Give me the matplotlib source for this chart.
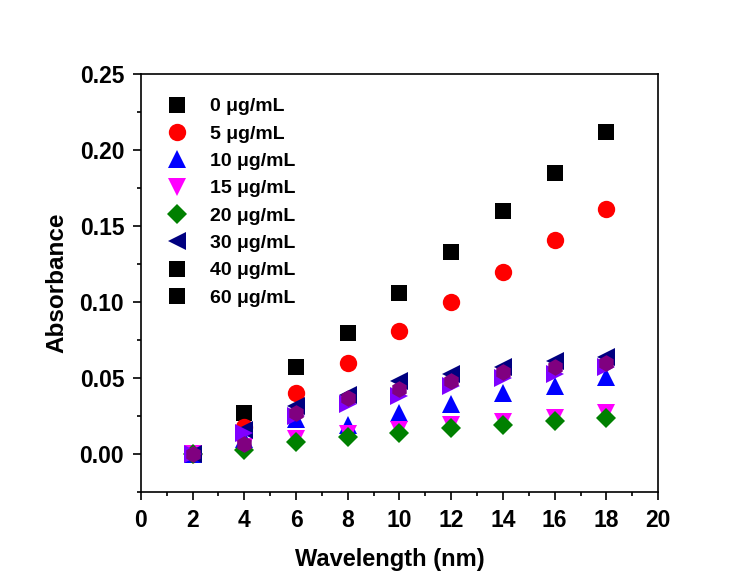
import numpy as np
import matplotlib.pyplot as plt
from matplotlib.lines import Line2D
from matplotlib.ticker import MultipleLocator

plt.rcParams['font.family'] = ['Liberation Sans', 'DejaVu Sans']
plt.rcParams['font.weight'] = 'bold'

wavelength = [2, 4, 6, 8, 10, 12, 14, 16, 18]

abs_0 = [0.000, 0.027, 0.057, 0.080, 0.106, 0.133, 0.160, 0.185, 0.212]
abs_5 = [0.000, 0.018, 0.040, 0.060, 0.081, 0.100, 0.120, 0.141, 0.161]
abs_10 = [0.000, 0.010, 0.023, 0.019, 0.027, 0.033, 0.040, 0.045, 0.051]
abs_15 = [0.000, 0.005, 0.010, 0.013, 0.016, 0.019, 0.021, 0.024, 0.027]
abs_20 = [0.000, 0.003, 0.008, 0.011, 0.014, 0.017, 0.019, 0.022, 0.024]
abs_30 = [0.000, 0.016, 0.032, 0.039, 0.048, 0.053, 0.057, 0.061, 0.064]
abs_40 = [0.000, 0.014, 0.025, 0.033, 0.038, 0.045, 0.050, 0.053, 0.057]
abs_60 = [0.000, 0.007, 0.027, 0.037, 0.043, 0.048, 0.054, 0.057, 0.060]

labels = ['0 μg/mL', '5 μg/mL', '10 μg/mL', '15 μg/mL', '20 μg/mL',
          '30 μg/mL', '40 μg/mL', '60 μg/mL']

series = [
    (abs_0, 's', 'black', 11),
    (abs_5, 'o', 'red', 12.5),
    (abs_10, '^', 'blue', 13),
    (abs_15, 'v', 'magenta', 13),
    (abs_20, 'D', 'green', 10),
    (abs_30, '<', 'navy', 13),
    (abs_40, '>', '#8000ff', 13),
    (abs_60, 'h', 'purple', 12),
]

fig = plt.figure(figsize=(7.53, 5.79), dpi=100)
ax = fig.add_axes([0.187, 0.150, 0.687, 0.722])

for vals, mk, col, ms in series:
    ax.plot(wavelength, vals, linestyle='None', marker=mk, color=col,
            markersize=ms, markeredgewidth=0)

# legend as drawn in the original (40 and 60 shown with black squares)
leg_style = [('s', 'black', 11), ('o', 'red', 12.5), ('^', 'blue', 13),
             ('v', 'magenta', 13), ('D', 'green', 10), ('<', 'navy', 13),
             ('s', 'black', 11), ('s', 'black', 11)]
handles = [Line2D([], [], linestyle='None', marker=m, color=c, markersize=s,
                  markeredgewidth=0) for m, c, s in leg_style]
ax.legend(handles, labels, loc='upper left', frameon=False, fontsize=14,
          handletextpad=0.7, labelspacing=0.5, borderaxespad=0.6,
          bbox_to_anchor=(-0.006, 0.99))

ax.set_xlim(0, 20)
ax.set_ylim(-0.025, 0.25)
ax.xaxis.set_major_locator(MultipleLocator(2))
ax.xaxis.set_minor_locator(MultipleLocator(1))
ax.yaxis.set_minor_locator(MultipleLocator(0.025))
ax.set_yticks(np.arange(0, 0.26, 0.05))
ax.set_yticklabels([f'{v:.2f}' for v in np.arange(0, 0.26, 0.05)])

ax.tick_params(which='major', direction='out', length=6, width=1.2,
               labelsize=16.5, pad=6, top=False, right=False)
ax.tick_params(which='minor', direction='out', length=3, width=1.2,
               top=False, right=False)
for lbl in ax.get_xticklabels() + ax.get_yticklabels():
    lbl.set_fontweight('bold')
for sp in ax.spines.values():
    sp.set_linewidth(1.2)

ax.set_xlabel('Wavelength (nm)', fontsize=17, fontweight='bold')
ax.xaxis.set_label_coords(0.481, -0.133)
ax.set_ylabel('Absorbance', fontsize=17.5, fontweight='bold', labelpad=8)

fig.savefig('out.png', dpi=100)
